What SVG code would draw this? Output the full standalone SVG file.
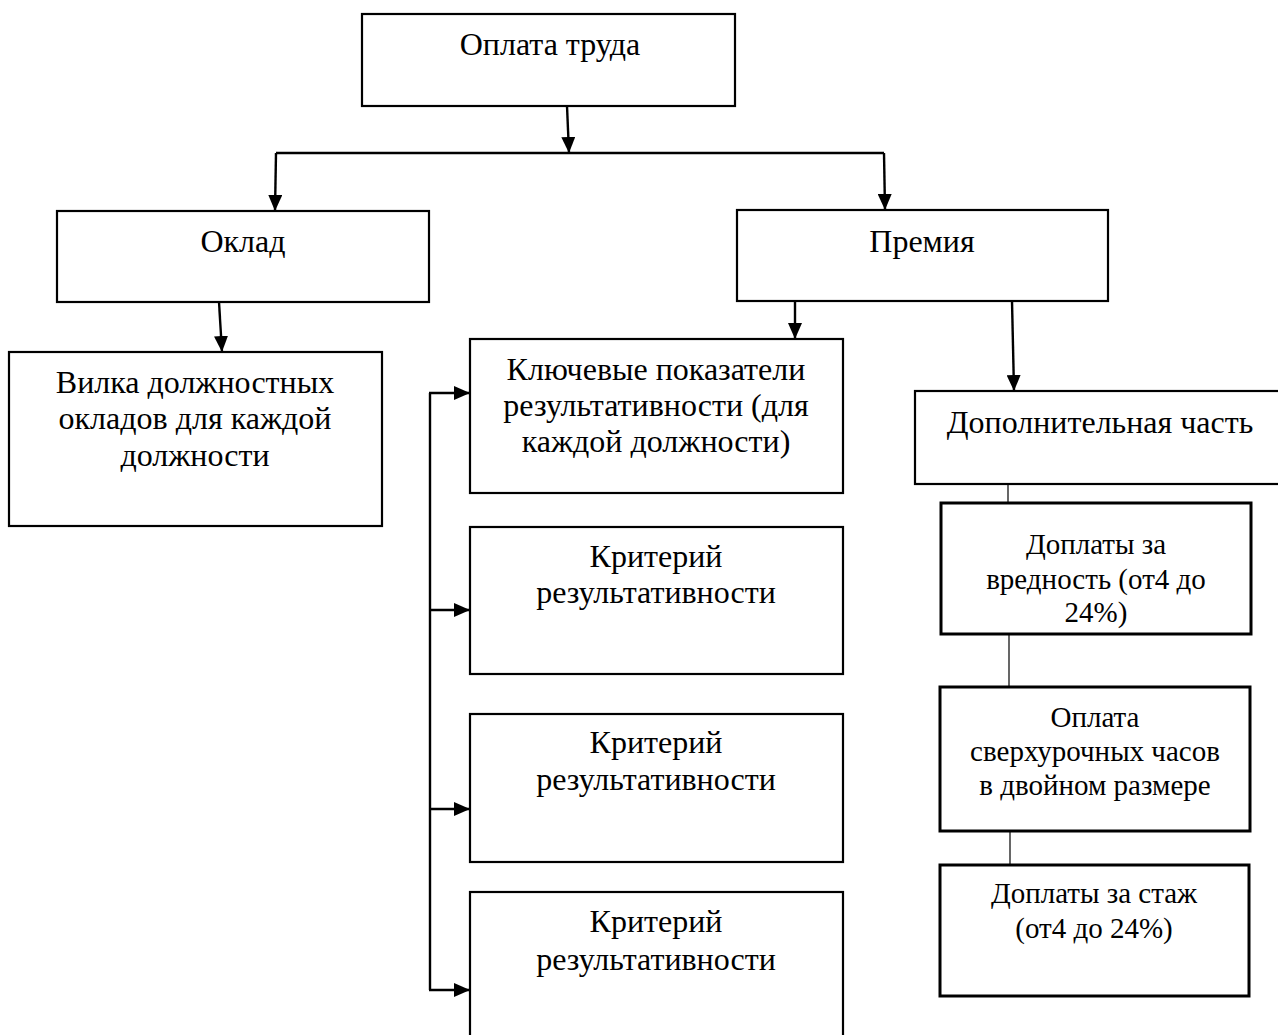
<svg xmlns="http://www.w3.org/2000/svg" width="1278" height="1035" viewBox="0 0 1278 1035">
<style>
.box{fill:#fff;stroke:#000;stroke-width:2.2}
.box3{fill:#fff;stroke:#000;stroke-width:3}
.t{font-family:"Liberation Serif","Times New Roman",serif;font-size:32px;fill:#000;text-anchor:middle}
.s{font-family:"Liberation Serif","Times New Roman",serif;font-size:29px;fill:#000;text-anchor:middle}
.c{fill:none;stroke:#000;stroke-width:2.4}
.thin{fill:none;stroke:#000;stroke-width:1.2}
</style>
<defs>
<marker id="ah" markerUnits="userSpaceOnUse" markerWidth="16" markerHeight="14" refX="16" refY="7" orient="auto">
<path d="M0,0 L16,7 L0,14 z" fill="#000"/>
</marker>
</defs>
<rect width="1278" height="1035" fill="#fff"/>
<g id="connectors">
<path class="c" d="M567,106 L569,153" marker-end="url(#ah)"/>
<path class="c" d="M276,153 L884,153"/>
<path class="c" d="M276,153 L275,211" marker-end="url(#ah)"/>
<path class="c" d="M884,153 L885,210" marker-end="url(#ah)"/>
<path class="c" d="M219,302 L222,352" marker-end="url(#ah)"/>
<path class="c" d="M795,301 L795,339" marker-end="url(#ah)"/>
<path class="c" d="M1012,301 L1014,391" marker-end="url(#ah)"/>
<path class="c" d="M430,393 L430,990"/>
<path class="c" d="M429,393 L470,393" marker-end="url(#ah)"/>
<path class="c" d="M430,610 L470,610" marker-end="url(#ah)"/>
<path class="c" d="M430,809 L470,809" marker-end="url(#ah)"/>
<path class="c" d="M429,990 L470,990" marker-end="url(#ah)"/>
<path class="thin" d="M1008,484 L1008,503"/>
<path class="thin" d="M1009,634 L1009,687"/>
<path class="thin" d="M1010,831 L1010,865"/>
</g>
<g id="n-oplata">
<rect class="box" x="362" y="14" width="373" height="92"/>
<text class="t" x="550" y="55">Оплата труда</text>
</g>
<g id="n-oklad">
<rect class="box" x="57" y="211" width="372" height="91"/>
<text class="t" x="243" y="252">Оклад</text>
</g>
<g id="n-premiya">
<rect class="box" x="737" y="210" width="371" height="91"/>
<text class="t" x="922" y="252">Премия</text>
</g>
<g id="n-vilka">
<rect class="box" x="9" y="352" width="373" height="174"/>
<text class="t" x="195" y="393">Вилка должностных</text>
<text class="t" x="195" y="429">окладов для каждой</text>
<text class="t" x="195" y="466">должности</text>
</g>
<g id="n-kpi">
<rect class="box" x="470" y="339" width="373" height="154"/>
<text class="t" x="656" y="380">Ключевые показатели</text>
<text class="t" x="656" y="416">результативности (для</text>
<text class="t" x="656" y="452">каждой должности)</text>
</g>
<g id="n-krit1">
<rect class="box" x="470" y="527" width="373" height="147"/>
<text class="t" x="656" y="567">Критерий</text>
<text class="t" x="656" y="603">результативности</text>
</g>
<g id="n-krit2">
<rect class="box" x="470" y="714" width="373" height="148"/>
<text class="t" x="656" y="753">Критерий</text>
<text class="t" x="656" y="790">результативности</text>
</g>
<g id="n-krit3">
<rect class="box" x="470" y="892" width="373" height="150"/>
<text class="t" x="656" y="932">Критерий</text>
<text class="t" x="656" y="970">результативности</text>
</g>
<g id="n-dop">
<rect class="box" x="915" y="391" width="370" height="93"/>
<text class="t" x="1100" y="433">Дополнительная часть</text>
</g>
<g id="n-vred">
<rect class="box3" x="941" y="503" width="310" height="131"/>
<text class="s" x="1096" y="554">Доплаты за</text>
<text class="s" x="1096" y="589">вредность (от4 до</text>
<text class="s" x="1096" y="622">24%)</text>
</g>
<g id="n-sverh">
<rect class="box3" x="940" y="687" width="310" height="144"/>
<text class="s" x="1095" y="727">Оплата</text>
<text class="s" x="1095" y="761">сверхурочных часов</text>
<text class="s" x="1095" y="795">в двойном размере</text>
</g>
<g id="n-stazh">
<rect class="box3" x="940" y="865" width="309" height="131"/>
<text class="s" x="1094" y="903">Доплаты за стаж</text>
<text class="s" x="1094" y="938">(от4 до 24%)</text>
</g>
</svg>
